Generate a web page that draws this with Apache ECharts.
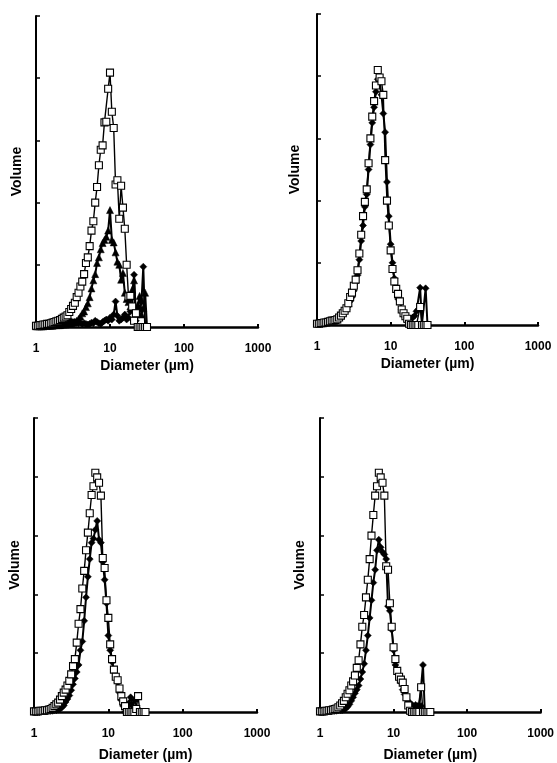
<!DOCTYPE html>
<html>
<head>
<meta charset="utf-8">
<script src="https://cdn.jsdelivr.net/npm/echarts@6/dist/echarts.min.js"></script>
<style>
html,body{margin:0;padding:0;background:#fff;}
#c{width:557px;height:763px;}
</style>
</head>
<body>
<div id="c"></div>
<script>
// Diameter channels (µm)
var diam = [1.000,1.059,1.122,1.189,1.259,1.334,1.413,1.496,1.585,1.679,1.778,1.884,1.995,2.113,2.239,2.371,2.512,2.661,2.818,2.985,3.162,3.350,3.548,3.758,3.981,4.217,4.467,4.732,5.012,5.309,5.623,5.957,6.310,6.683,7.079,7.499,7.943,8.414,8.913,9.441,10.00,10.59,11.22,11.89,12.59,13.34,14.13,14.96,15.85,16.79,17.78,18.84,19.95,21.13,22.39,23.71,25.12,26.61,28.18,29.85,31.62];
var xTickLabels = ["1","10","100","1000"];

// Panel A (top-left)
var aSquares = [0.02,0.02,0.03,0.03,0.04,0.04,0.05,0.05,0.06,0.07,0.08,0.09,0.10,0.11,0.13,0.15,
  0.17,0.19,0.24,0.29,0.34,0.39,0.48,0.55,0.65,0.73,0.85,1.03,1.12,1.30,1.55,1.70,
  2.00,2.25,2.60,2.85,2.92,3.29,3.30,3.83,4.09,
  3.46,3.20,2.29,2.36,1.74,2.27,1.92,1.58,1.00,0.49,0.50,0.33,0.10,0.22,0,0,0,0,0,0];
var aTriangles = [0.01,0.01,0.01,0.01,0.01,0.02,0.02,0.02,0.02,0.02,0.03,0.03,0.03,0.03,0.04,0.04,0.04,0.05,0.05,0.06,0.07,0.08,0.10,0.13,0.17,
  0.22,0.25,0.32,0.38,0.48,0.62,0.75,0.85,1.03,1.12,1.25,1.35,1.40,1.45,1.55,1.88,
  1.40,1.36,1.20,1.05,1.00,0.76,0.87,0.55,0.45,0.40,0.33,0.60,0.75,0.20,0.35,0.50,0.20,0.30,0.55,0.00];
var aDiamonds = [0.01,0.01,0.01,0.01,0.02,0.02,0.02,0.02,0.03,0.03,
  0.04,0.05,0.06,0.08,0.09,0.10,0.10,0.11,0.10,0.09,0.08,0.08,0.07,0.06,0.07,0.05,0.06,0.05,0.04,0.05,0.07,0.06,0.10,0.08,0.06,0.05,0.08,0.10,0.12,0.10,
  0.15,0.12,0.20,0.41,0.18,0.10,0.12,0.15,0.20,0.12,0.15,0.25,0.30,0.84,0.10,0.20,0.30,0.40,0.97,0.00,0.00];

// Panel B (top-right)
var bSquares = [0.02,0.02,0.03,0.03,0.04,0.04,0.05,0.06,0.07,0.07,0.08,0.09,0.12,0.15,0.19,0.23,0.27,
  0.35,0.45,0.52,0.63,0.73,0.88,1.15,1.45,1.75,1.98,2.18,2.60,3.00,3.35,3.60,3.85,4.10,
  3.98,3.92,3.70,2.65,2.00,1.60,1.20,0.90,0.70,0.58,0.50,0.38,0.25,0.19,0.14,0.10,0.02,0,0,0,0,0,0.29,0,0,0,0];
var bDiamonds = [0.01,0.01,0.02,0.02,0.03,0.03,0.04,0.05,0.05,0.06,0.07,0.08,0.10,0.13,0.16,0.20,0.25,
  0.30,0.38,0.45,0.55,0.68,0.80,1.05,1.35,1.60,1.90,2.10,2.50,2.90,3.25,3.50,3.75,3.95,
  3.90,3.70,3.40,3.10,2.30,1.75,1.30,1.00,0.75,0.55,0.42,0.38,0.25,0.18,0.12,0.05,
  0.08,0.10,0.12,0.15,0.22,0.25,0.60,0.02,0.00,0.59,0.00];

// Panel C (bottom-left)
var cSquares = [0.01,0.01,0.01,0.02,0.02,0.02,0.03,0.03,0.04,
  0.05,0.07,0.10,0.13,0.16,0.21,0.27,0.33,0.38,0.45,0.53,0.64,0.78,0.90,1.18,1.50,1.75,2.10,2.40,2.75,3.05,3.38,3.69,3.84,4.07,
  3.99,3.90,3.68,2.62,2.45,1.90,1.60,1.15,0.90,0.72,0.60,0.54,0.40,0.27,0.18,0.10,0,0,0,0,0,0.05,0.27,0,0,0,0];
var cDiamonds = [0.00,0.00,0.00,0.00,0.01,0.01,0.01,0.01,0.02,0.02,0.02,0.03,0.03,0.04,
  0.05,0.08,0.11,0.17,0.22,0.28,0.37,0.47,0.57,0.68,0.80,1.05,1.20,1.55,1.95,2.30,2.60,2.88,2.95,3.10,3.25,
  2.93,2.88,2.55,2.25,1.85,1.30,1.05,0.85,0.72,0.60,0.50,0.33,0.20,0.10,0.00,0.08,0.15,0.25,0.10,0.20,0.22,0.05,0.00,0.00,0.00,0.00];

// Panel D (bottom-right)
var dSquares = [0.01,0.01,0.01,0.02,0.02,0.03,0.03,0.04,0.05,
  0.06,0.08,0.11,0.15,0.19,0.25,0.31,0.37,0.45,0.52,0.62,0.75,0.88,1.15,1.45,1.65,1.95,2.25,2.60,3.00,3.35,3.68,3.84,4.07,
  3.99,3.90,3.68,2.48,2.42,1.85,1.45,1.10,0.90,0.70,0.60,0.55,0.50,0.39,0.25,0.11,0.02,0,0,0,0,0,0.42,0,0,0,0,0];
var dDiamonds = [0.00,0.00,0.00,0.01,0.01,0.01,0.01,0.02,0.02,0.02,0.03,0.03,0.03,
  0.04,0.06,0.09,0.13,0.19,0.25,0.32,0.38,0.45,0.56,0.68,0.82,1.05,1.30,1.60,1.90,2.20,2.42,2.75,2.93,2.80,2.72,2.68,2.60,
  1.80,1.72,1.40,1.05,0.80,0.72,0.62,0.50,0.38,0.30,0.22,0.18,0.15,0.12,0.10,0.12,0.10,0.08,0.10,0.80,0.00,0.00,0.00,0.00];

var xName = "Diameter (µm)";
var yName = "Volume";

var panels = [
  {grid:{left:36, top:16, width:222, height:311}, nameGapX:32, nameGapY:12, series:[
    {d:aDiamonds, s:'diamond'}, {d:aTriangles, s:'triangle'}, {d:aSquares, s:'rect'}]},
  {grid:{left:317, top:14, width:221, height:311}, nameGapX:32, nameGapY:15, series:[
    {d:bDiamonds, s:'diamond'}, {d:bSquares, s:'rect'}]},
  {grid:{left:34, top:418, width:223, height:295}, nameGapX:36, nameGapY:12, series:[
    {d:cDiamonds, s:'diamond'}, {d:cSquares, s:'rect'}]},
  {grid:{left:320, top:418, width:221, height:295}, nameGapX:36, nameGapY:13, series:[
    {d:dDiamonds, s:'diamond'}, {d:dSquares, s:'rect'}]}
];

var font = 'Liberation Sans, Arial, sans-serif';
var option = {animation:false, backgroundColor:'#fff', grid:[], xAxis:[], yAxis:[], series:[]};
panels.forEach(function(p, i){
  option.grid.push(p.grid);
  option.xAxis.push({
    type:'log', logBase:10, min:1, max:1000, gridIndex:i,
    name:xName, nameLocation:'middle', nameGap:p.nameGapX,
    nameTextStyle:{fontFamily:font, fontWeight:'bold', fontSize:14, color:'#000'},
    axisLine:{show:true, onZero:false, lineStyle:{color:'#000', width:2.5}},
    axisTick:{show:true, inside:true, length:3, lineStyle:{color:'#000', width:2}},
    axisLabel:{show:true, margin:16, fontFamily:font, fontWeight:'bold', fontSize:12, color:'#000',
      formatter:function(v){ var idx = Math.round(Math.log10(v)); return xTickLabels[idx] || ''; }},
    splitLine:{show:false}, minorTick:{show:false}
  });
  option.yAxis.push({
    type:'value', min:0, max:5, interval:1, gridIndex:i,
    name:yName, nameLocation:'middle', nameGap:p.nameGapY, nameRotate:90,
    nameTextStyle:{fontFamily:font, fontWeight:'bold', fontSize:14, color:'#000'},
    axisLine:{show:true, onZero:false, lineStyle:{color:'#000', width:2}},
    axisTick:{show:true, inside:true, length:4, lineStyle:{color:'#000', width:1.5}},
    axisLabel:{show:false}, splitLine:{show:false}
  });
  p.series.forEach(function(s){
    var isRect = s.s === 'rect';
    option.series.push({
      type:'line', xAxisIndex:i, yAxisIndex:i,
      data: diam.map(function(x, k){ return [x, s.d[k]]; }),
      symbol:s.s, symbolSize: isRect ? 7 : 7, showAllSymbol:true,
      lineStyle:{color:'#000', width: isRect ? 1.4 : 2},
      itemStyle: isRect ? {color:'#fff', borderColor:'#000', borderWidth:1.1} : {color:'#000', borderColor:'#000', borderWidth:0.5},
      emphasis:{disabled:true}, silent:true
    });
  });
});

var chart = echarts.init(document.getElementById('c'), null, {renderer:'canvas'});
chart.setOption(option);
</script>
</body>
</html>
